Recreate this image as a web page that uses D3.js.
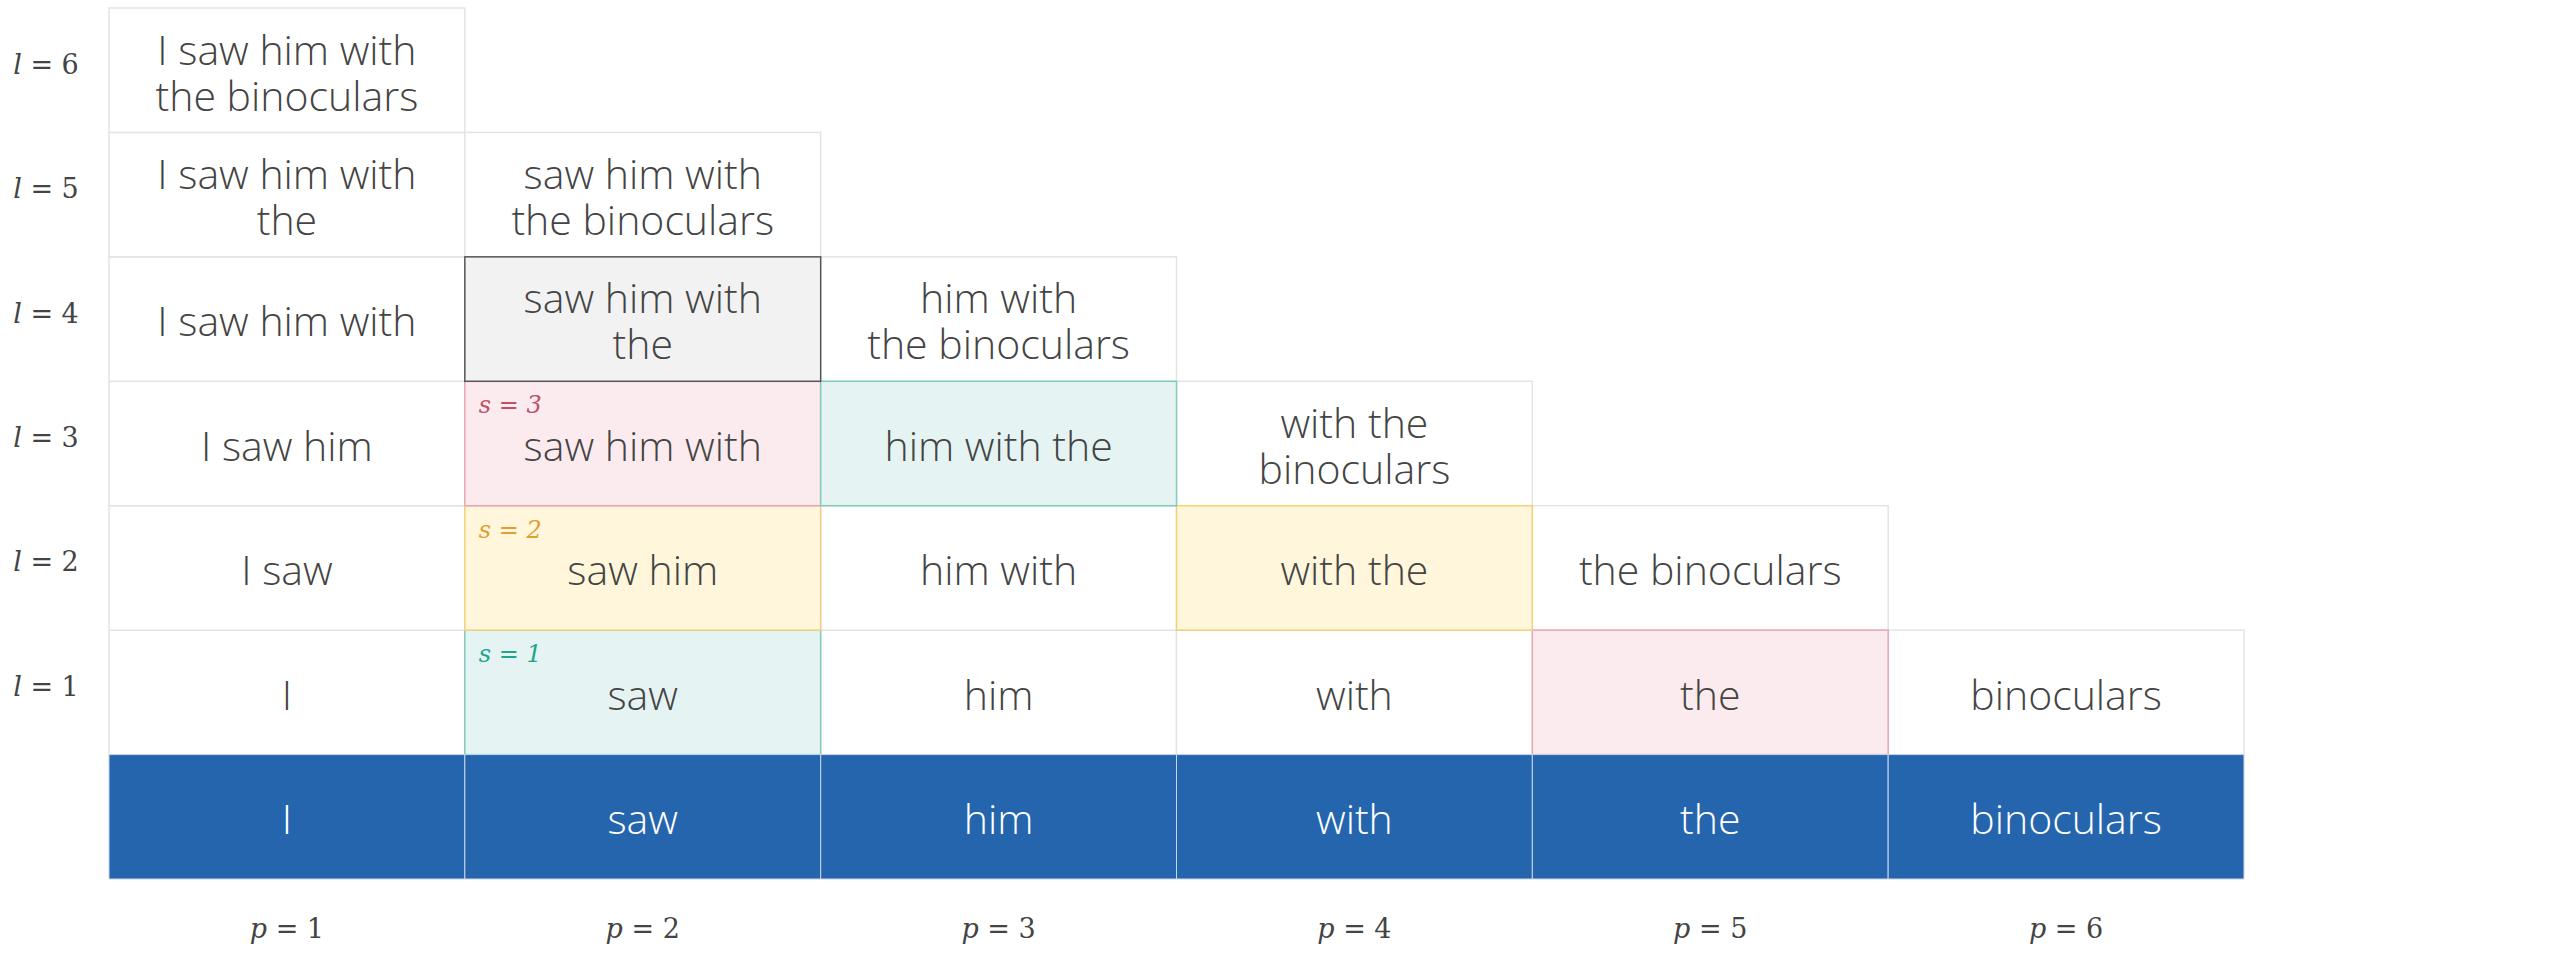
<!DOCTYPE html>
<html><head><meta charset="utf-8">
<script src="https://cdn.jsdelivr.net/npm/d3@7"></script>
<style>body{margin:0;background:#fff}</style></head>
<body><svg id="c" width="2560" height="960"></svg>
<script>
const words = ["I","saw","him","with","the","binoculars"];
const positions = [1,2,3,4,5,6];
const levels = [1,2,3,4,5,6];
const cellText = {
 1:["I","saw","him","with","the","binoculars"],
 2:["I saw","saw him","him with","with the","the binoculars"],
 3:["I saw him","saw him with","him with the","with the|binoculars"],
 4:["I saw him with","saw him with|the","him with|the binoculars"],
 5:["I saw him with|the","saw him with|the binoculars"],
 6:["I saw him with|the binoculars"]
};
const highlights = [[2,4,"gray",null],[2,3,"pink","s = 3"],[3,3,"teal",null],[2,2,"yellow","s = 2"],[4,2,"yellow",null],[2,1,"teal","s = 1"],[5,1,"pink",null]];
const styles = {
 gray:{fill:"#f2f2f2",stroke:"#555555",txt:"#555"},
 pink:{fill:"#fcebee",stroke:"#e8a7b5",txt:"#c0506a"},
 teal:{fill:"#e5f4f2",stroke:"#7fcbbd",txt:"#22a58f"},
 yellow:{fill:"#fff6db",stroke:"#f0d27a",txt:"#e0a030"}
};
const svg = d3.select("#c");
const x = d3.scaleBand().domain(positions).range([109,2244]);
const y = d3.scaleBand().domain([0,...levels]).range([879,8]);
const font = "'Open Sans', sans-serif";
const g = svg.append("g");
const cells=[];
levels.forEach(l=>cellText[l].forEach((t,i)=>cells.push({p:i+1,l,t})));
const hmap={}; highlights.forEach(h=>hmap[h[0]+"_"+h[1]]=h);
cells.forEach(c=>{c.h=hmap[c.p+"_"+c.l];});
const draw=(c)=>{
 const st=c.h?styles[c.h[2]]:{fill:"#fff",stroke:"#e4e4e4"};
 g.append("rect").attr("x",x(c.p)).attr("y",y(c.l)).attr("width",x.bandwidth()).attr("height",y.bandwidth())
  .attr("fill",st.fill).attr("stroke",st.stroke).attr("stroke-width",1.5);
};
cells.filter(c=>!c.h).forEach(draw);
cells.filter(c=>c.h).forEach(draw);
cells.forEach(c=>{
 const lines=c.t.split("|");
 const cx=x(c.p)+x.bandwidth()/2, cy=y(c.l)+y.bandwidth()/2+3;
 const lh=46;
 lines.forEach((ln,k)=>{
  g.append("text").attr("x",cx).attr("y",cy+(k-(lines.length-1)/2)*lh).attr("dy","0.35em")
   .attr("text-anchor","middle").attr("font-family",font).attr("font-weight",300).attr("font-size",41)
   .attr("fill","#444").text(ln);
 });
 if(c.h&&c.h[3]){
  g.append("text").attr("x",x(c.p)+14).attr("y",y(c.l)+32).attr("font-family","'DejaVu Serif', serif")
   .attr("font-style","italic").attr("font-size",24).attr("fill",styles[c.h[2]].txt).text(c.h[3]);
 }
});
words.forEach((w,i)=>{
 const p=positions[i];
 g.append("rect").attr("x",x(p)).attr("y",y(0)).attr("width",x.bandwidth()).attr("height",y.bandwidth())
  .attr("fill","#2565ae").attr("stroke","#c9d6ea").attr("stroke-width",1);
 g.append("text").attr("x",x(p)+x.bandwidth()/2).attr("y",y(0)+y.bandwidth()/2+3).attr("dy","0.35em")
  .attr("text-anchor","middle").attr("font-family",font).attr("font-weight",300).attr("font-size",41)
  .attr("fill","#fff").text(w);
});
levels.forEach(l=>{
 svg.append("text").attr("x",46).attr("y",y(l)+y.bandwidth()/2-6).attr("dy","0.35em").attr("text-anchor","middle")
  .attr("font-family","'DejaVu Serif', serif").attr("font-size",27).attr("fill","#444")
  .html(`<tspan font-style="italic">l</tspan> = ${l}`);
});
positions.forEach(p=>{
 svg.append("text").attr("x",x(p)+x.bandwidth()/2).attr("y",929).attr("dy","0.35em").attr("text-anchor","middle")
  .attr("font-family","'DejaVu Serif', serif").attr("font-size",27).attr("fill","#444")
  .html(`<tspan font-style="italic">p</tspan> = ${p}`);
});
</script></body></html>
